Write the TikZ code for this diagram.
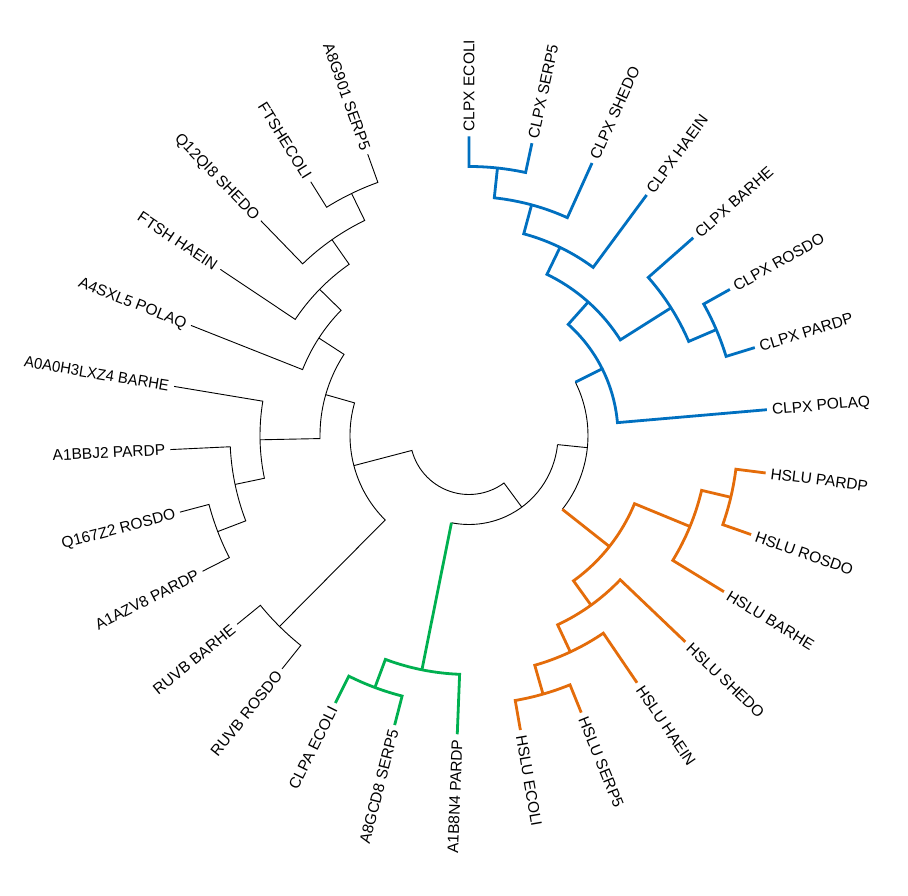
\documentclass[tikz,border=0pt]{standalone}
\usepackage{fontspec}
\setmainfont{Liberation Sans}
\usepackage{graphicx}
\definecolor{cblue}{HTML}{0070C0}
\definecolor{corange}{HTML}{E46C0A}
\definecolor{cgreen}{HTML}{00B050}
\newcommand\labfont{\fontsize{15.5}{18}\selectfont}
\tikzset{
  lab/.style={inner sep=0pt, font=\labfont, text height=11pt, text depth=0pt},
  thinb/.style={line width=0.9pt, black},
  bl/.style={line width=2.8pt, cblue},
  orn/.style={line width=2.8pt, corange},
  grn/.style={line width=2.8pt, cgreen}
}
\newcommand\tipR[3]{\coordinate (t#1) at (#2:299pt); \node[lab, anchor=west, rotate=#2] (l#1) at (#2:304pt) {#3};}
\newcommand\tipL[3]{\coordinate (t#1) at (#2:299pt); \node[lab, anchor=east, rotate=#2+180] (l#1) at (#2:304pt) {#3};}
\newcommand\inode[3]{\coordinate (#1) at (#2:#3pt);}
\newcommand\fork[6]{\draw[#1] (#3) -- (#4:#2pt) arc[start angle=#4, end angle=#6, radius=#2pt] -- (#5);}
\begin{document}
\begin{tikzpicture}
\useasboundingbox[fill=white] (-469pt,-460.5pt) rectangle (439pt,435.5pt);
% tips
\tipR{0}{90}{CLPX ECOLI}
\tipR{1}{77.85}{CLPX SERP5}
\tipR{2}{65.70}{CLPX SHEDO}
\tipR{3}{53.55}{CLPX HAEIN}
\tipR{4}{41.40}{CLPX BARHE}
\tipR{5}{29.25}{CLPX ROSDO}
\tipR{6}{17.10}{CLPX PARDP}
\tipR{7}{4.95}{CLPX POLAQ}
\tipR{8}{-7.20}{HSLU PARDP}
\tipR{9}{-19.35}{HSLU ROSDO}
\tipR{10}{-31.50}{HSLU BARHE}
\tipR{11}{-43.65}{HSLU SHEDO}
\tipR{12}{-55.80}{HSLU HAEIN}
\tipR{13}{-67.95}{HSLU SERP5}
\tipR{14}{-80.10}{HSLU ECOLI}
\tipL{15}{-92.25}{A1B8N4 PARDP}
\tipL{16}{-104.40}{A8GCD8 SERP5}
\tipL{17}{-116.55}{CLPA ECOLI}
\tipL{18}{-128.70}{RUVB ROSDO}
\tipL{19}{-140.85}{RUVB BARHE}
\tipL{20}{-153.00}{A1AZV8 PARDP}
\tipL{21}{-165.15}{Q167Z2 ROSDO}
\tipL{22}{-177.30}{A1BBJ2 PARDP}
\tipL{23}{-189.45}{\scalebox{0.96}[1]{A0A0H3LXZ4 BARHE}}
\tipL{24}{-201.60}{A4SXL5 POLAQ}
\tipL{25}{-213.75}{FTSH HAEIN}
\tipL{26}{-225.90}{Q12QI8 SHEDO}
\tipL{27}{-238.05}{FTSHECOLI}
\tipL{28}{-250.20}{A8G901 SERP5}
% internal nodes
\inode{B5}{83.925}{269}
\inode{B4}{74.8125}{239}
\inode{B3}{64.181}{209}
\inode{B7}{23.175}{269}
\inode{B6}{32.2875}{239}
\inode{B2}{48.234}{179}
\inode{B1}{26.592}{149}
\inode{O3}{-13.275}{269}
\inode{O2}{-22.3875}{239}
\inode{O6}{-74.025}{269}
\inode{O5}{-64.9125}{239}
\inode{O4}{-54.281}{209}
\inode{O1}{-38.334}{179}
\inode{X}{-5.871}{119}
\inode{G2}{-110.475}{269}
\inode{G1}{-101.3625}{239}
\inode{N1}{-53.617}{89}
\inode{K2}{-134.775}{269}
\inode{K6}{-159.075}{269}
\inode{K5}{-168.1875}{239}
\inode{K4}{-178.819}{209}
\inode{K10}{-244.125}{269}
\inode{K9}{-235.0125}{239}
\inode{K8}{-224.381}{209}
\inode{K7}{-212.991}{179}
\inode{K3}{-195.905}{149}
\inode{K1}{-165.340}{119}
% black clade
\fork{thinb}{269}{t18}{-128.70}{t19}{-140.85}
\fork{thinb}{269}{t20}{-153.00}{t21}{-165.15}
\fork{thinb}{239}{K6}{-159.075}{t22}{-177.30}
\fork{thinb}{209}{K5}{-168.1875}{t23}{-189.45}
\fork{thinb}{269}{t27}{-238.05}{t28}{-250.20}
\fork{thinb}{239}{t26}{-225.90}{K10}{-244.125}
\fork{thinb}{209}{t25}{-213.75}{K9}{-235.0125}
\fork{thinb}{179}{t24}{-201.60}{K8}{-224.381}
\fork{thinb}{149}{K4}{-178.819}{K7}{-212.991}
\fork{thinb}{119}{K2}{-134.775}{K3}{-195.905}
% root
\fork{thinb}{59}{K1}{-165.340}{N1}{-53.617}
% N1
\draw[thinb] (-5.871:89pt) arc[start angle=-5.871, end angle=-101.3625, radius=89pt];
\draw[thinb] (-5.871:89pt) -- (X);
% X
\draw[thinb] (26.592:119pt) arc[start angle=26.592, end angle=-38.334, radius=119pt];
% green
\draw[grn] (-101.3625:89pt) -- (G1);
\fork{grn}{269}{t16}{-104.40}{t17}{-116.55}
\fork{grn}{239}{t15}{-92.25}{G2}{-110.475}
% blue
\draw[bl] (26.592:119pt) -- (B1);
\fork{bl}{269}{t0}{90}{t1}{77.85}
\fork{bl}{239}{B5}{83.925}{t2}{65.70}
\fork{bl}{209}{B4}{74.8125}{t3}{53.55}
\fork{bl}{269}{t5}{29.25}{t6}{17.10}
\fork{bl}{239}{t4}{41.40}{B7}{23.175}
\fork{bl}{179}{B3}{64.181}{B6}{32.2875}
\fork{bl}{149}{B2}{48.234}{t7}{4.95}
% orange
\draw[orn] (-38.334:119pt) -- (O1);
\fork{orn}{269}{t8}{-7.20}{t9}{-19.35}
\fork{orn}{239}{O3}{-13.275}{t10}{-31.50}
\fork{orn}{269}{t13}{-67.95}{t14}{-80.10}
\fork{orn}{239}{t12}{-55.80}{O6}{-74.025}
\fork{orn}{209}{t11}{-43.65}{O5}{-64.9125}
\fork{orn}{179}{O2}{-22.3875}{O4}{-54.281}
\end{tikzpicture}
\end{document}
